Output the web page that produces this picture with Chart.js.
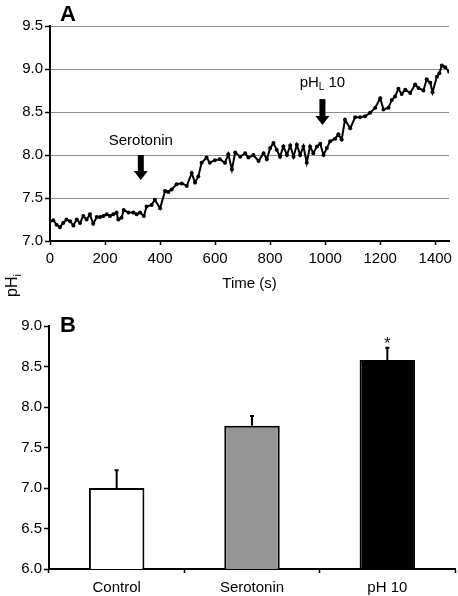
<!DOCTYPE html>
<html>
<head>
<meta charset="utf-8">
<script src="https://cdn.jsdelivr.net/npm/chart.js@4.4.0/dist/chart.umd.min.js"></script>
<style>
  body { margin: 0; background: #fff; }
  #wrap { position: relative; width: 458px; height: 596px; }
  #wrap div { position: absolute; left: 0; width: 458px; }
</style>
</head>
<body>
<div id="wrap">
  <div style="top:0;height:300px"><canvas id="chartA"></canvas></div>
  <div style="top:300px;height:296px"><canvas id="chartB"></canvas></div>
</div>
<script>
// panel A: intracellular pH over time
var times = [0,12,24,36,48,60,73,85,97,109,121,133,145,157,170,182,194,206,218,230,
  242,248,260,268,285,303,315,327,341,351,369,381,400,418,430,442,460,479,497,515,
  527,539,551,569,581,599,617,636,648,661,673,691,709,721,739,758,776,788,800,812,
  824,836,848,861,873,885,897,909,921,933,945,957,970,982,994,1006,1018,1036,1048,1060,
  1072,1091,1109,1127,1145,1163,1182,1200,1212,1230,1242,1254,1266,1278,1291,1309,1327,1339,1357,1369,
  1382,1390,1406,1415,1424,1436,1450];
var phValues = [7.23,7.24,7.19,7.16,7.21,7.25,7.23,7.18,7.25,7.21,7.29,7.25,7.31,7.20,7.28,7.28,7.29,7.31,7.29,7.31,
  7.33,7.25,7.27,7.36,7.33,7.33,7.31,7.33,7.29,7.40,7.42,7.48,7.38,7.58,7.57,7.60,7.66,7.67,7.64,7.79,
  7.68,7.75,7.91,7.97,7.91,7.94,7.95,7.91,8.01,7.83,8.03,7.98,8.02,7.97,8.00,7.93,8.02,7.95,8.08,8.14,
  8.06,7.98,8.10,8.00,8.11,7.98,8.12,8.00,8.10,7.91,8.10,8.02,8.10,8.13,8.00,8.08,8.16,8.19,8.24,8.18,
  8.41,8.31,8.44,8.44,8.45,8.49,8.55,8.66,8.53,8.55,8.64,8.68,8.77,8.71,8.76,8.72,8.82,8.78,8.75,8.88,
  8.84,8.73,8.91,8.95,9.04,9.02,8.97];

// arrows: time of addition, arrow top and tip (pH units)
var markTimes = [330, 990];
var markTop = [8.0, 8.65];
var markTip = [7.71, 8.35];

// panel B: mean pHi with SEM
var groups = ['Control', 'Serotonin', 'pH 10'];
var means = [7.0, 7.77, 8.58];
var sems = [0.22, 0.12, 0.15];
var signif = ['', '', '*'];

var FONT = '"Liberation Sans", Arial, Helvetica, sans-serif';
Chart.defaults.font.family = FONT;
Chart.defaults.font.size = 15;
Chart.defaults.color = '#000';

function tickFmt(v) { return v.toFixed(1); }

function drawSubText(ctx, parts, x, y) {
  // parts: [text, size, dy]
  var w = 0;
  parts.forEach(function (p) { ctx.font = p[1] + 'px ' + FONT; w += ctx.measureText(p[0]).width; });
  var cx = x - w / 2;
  parts.forEach(function (p) {
    ctx.font = p[1] + 'px ' + FONT;
    ctx.fillText(p[0], cx, y + p[2]);
    cx += ctx.measureText(p[0]).width;
  });
}

var annotA = {
  id: 'annotA',
  afterDraw: function (chart) {
    var ctx = chart.ctx, xs = chart.scales.x, ys = chart.scales.y;
    ctx.save();
    ctx.fillStyle = '#000';
    ctx.textBaseline = 'middle';
    ctx.textAlign = 'left';
    ctx.font = 'bold 22px ' + FONT;
    ctx.fillText('A', 60, 15);

    for (var i = 0; i < markTimes.length; i++) {
      var x = xs.getPixelForValue(markTimes[i]);
      var yt = ys.getPixelForValue(markTop[i]);
      var yp = ys.getPixelForValue(markTip[i]);
      ctx.fillRect(x - 3, yt, 6, yp - yt - 8);
      ctx.beginPath();
      ctx.moveTo(x - 7, yp - 9);
      ctx.lineTo(x + 7, yp - 9);
      ctx.lineTo(x, yp);
      ctx.closePath();
      ctx.fill();
      ctx.textAlign = 'left';
      if (i === 0) drawSubText(ctx, [['Serotonin', 15, 0]], x, yt - 14);
      else drawSubText(ctx, [['pH', 15, 0], ['L', 10, 4], [' 10', 15, 0]], x, yt - 16);
    }

    // shared y label
    ctx.translate(13, 283);
    ctx.rotate(-Math.PI / 2);
    ctx.textAlign = 'left';
    ctx.font = '16px ' + FONT;
    var w1 = ctx.measureText('pH').width;
    ctx.fillText('pH', -14, 0);
    ctx.font = '11px ' + FONT;
    ctx.fillText('i', -14 + w1, 5);
    ctx.restore();
  }
};

new Chart(document.getElementById('chartA'), {
  type: 'line',
  data: {
    datasets: [{
      data: times.map(function (t, i) { return { x: t, y: phValues[i] }; }),
      borderColor: '#000',
      borderWidth: 2,
      pointRadius: 2,
      pointBackgroundColor: '#000',
      pointBorderWidth: 0,
      tension: 0
    }]
  },
  options: {
    responsive: true,
    maintainAspectRatio: false,
    animation: false,
    events: [],
    layout: { padding: { left: 0, right: 9, top: 26, bottom: 0 } },
    plugins: { legend: { display: false }, tooltip: { enabled: false } },
    scales: {
      x: {
        type: 'linear',
        min: 0, max: 1450,
        afterFit: function (s) { s.height = 59; },
        ticks: { stepSize: 200, includeBounds: false, padding: 5, maxRotation: 0,
                 callback: function (v) { return String(v); } },
        grid: { drawOnChartArea: false, tickLength: 4, tickColor: '#000', tickWidth: 1.5 },
        border: { color: '#000', width: 2 },
        title: { display: true, text: 'Time (s)', font: { size: 15 }, padding: { top: 0, bottom: 7 } }
      },
      y: {
        min: 7, max: 9.5,
        afterFit: function (s) { s.width = 50; },
        ticks: { stepSize: 0.5, callback: tickFmt, padding: 2 },
        grid: { color: '#8c8c8c', lineWidth: 1, tickLength: 5, tickColor: '#000', tickWidth: 1.5 },
        border: { color: '#000', width: 2 }
      }
    }
  },
  plugins: [annotA]
});

var errBars = {
  id: 'errBars',
  afterDatasetsDraw: function (chart) {
    var ctx = chart.ctx, ys = chart.scales.y;
    var meta = chart.getDatasetMeta(0);
    ctx.save();
    ctx.strokeStyle = '#000';
    ctx.fillStyle = '#000';
    ctx.lineWidth = 2;
    meta.data.forEach(function (bar, i) {
      var top = ys.getPixelForValue(means[i] + sems[i]);
      ctx.beginPath();
      ctx.moveTo(bar.x, bar.y);
      ctx.lineTo(bar.x, top);
      ctx.moveTo(bar.x - 2, top);
      ctx.lineTo(bar.x + 2, top);
      ctx.stroke();
      if (signif[i]) {
        ctx.font = '16px ' + FONT;
        ctx.textAlign = 'center';
        ctx.textBaseline = 'middle';
        ctx.fillText(signif[i], bar.x, top - 3);
      }
    });
    ctx.font = 'bold 22px ' + FONT;
    ctx.textAlign = 'left';
    ctx.textBaseline = 'middle';
    ctx.fillText('B', 60, 26);
    ctx.restore();
  }
};

new Chart(document.getElementById('chartB'), {
  type: 'bar',
  data: {
    labels: groups,
    datasets: [{
      data: means,
      backgroundColor: ['#ffffff', '#959595', '#000000'],
      borderColor: '#000',
      borderWidth: 2,
      barPercentage: 0.41,
      categoryPercentage: 1
    }]
  },
  options: {
    responsive: true,
    maintainAspectRatio: false,
    animation: false,
    events: [],
    layout: { padding: { left: 0, right: 3, top: 26, bottom: 0 } },
    plugins: { legend: { display: false }, tooltip: { enabled: false } },
    scales: {
      x: {
        afterFit: function (s) { s.height = 27; },
        ticks: { padding: 6 },
        grid: { offset: true, drawOnChartArea: false, tickLength: 4, tickColor: '#000', tickWidth: 1.5 },
        border: { color: '#000', width: 2 }
      },
      y: {
        min: 6, max: 9,
        afterFit: function (s) { s.width = 49; },
        ticks: { stepSize: 0.5, callback: tickFmt, padding: 2 },
        grid: { drawOnChartArea: false, tickLength: 5, tickColor: '#000', tickWidth: 1.5 },
        border: { color: '#000', width: 2 }
      }
    }
  },
  plugins: [errBars]
});
</script>
</body>
</html>
